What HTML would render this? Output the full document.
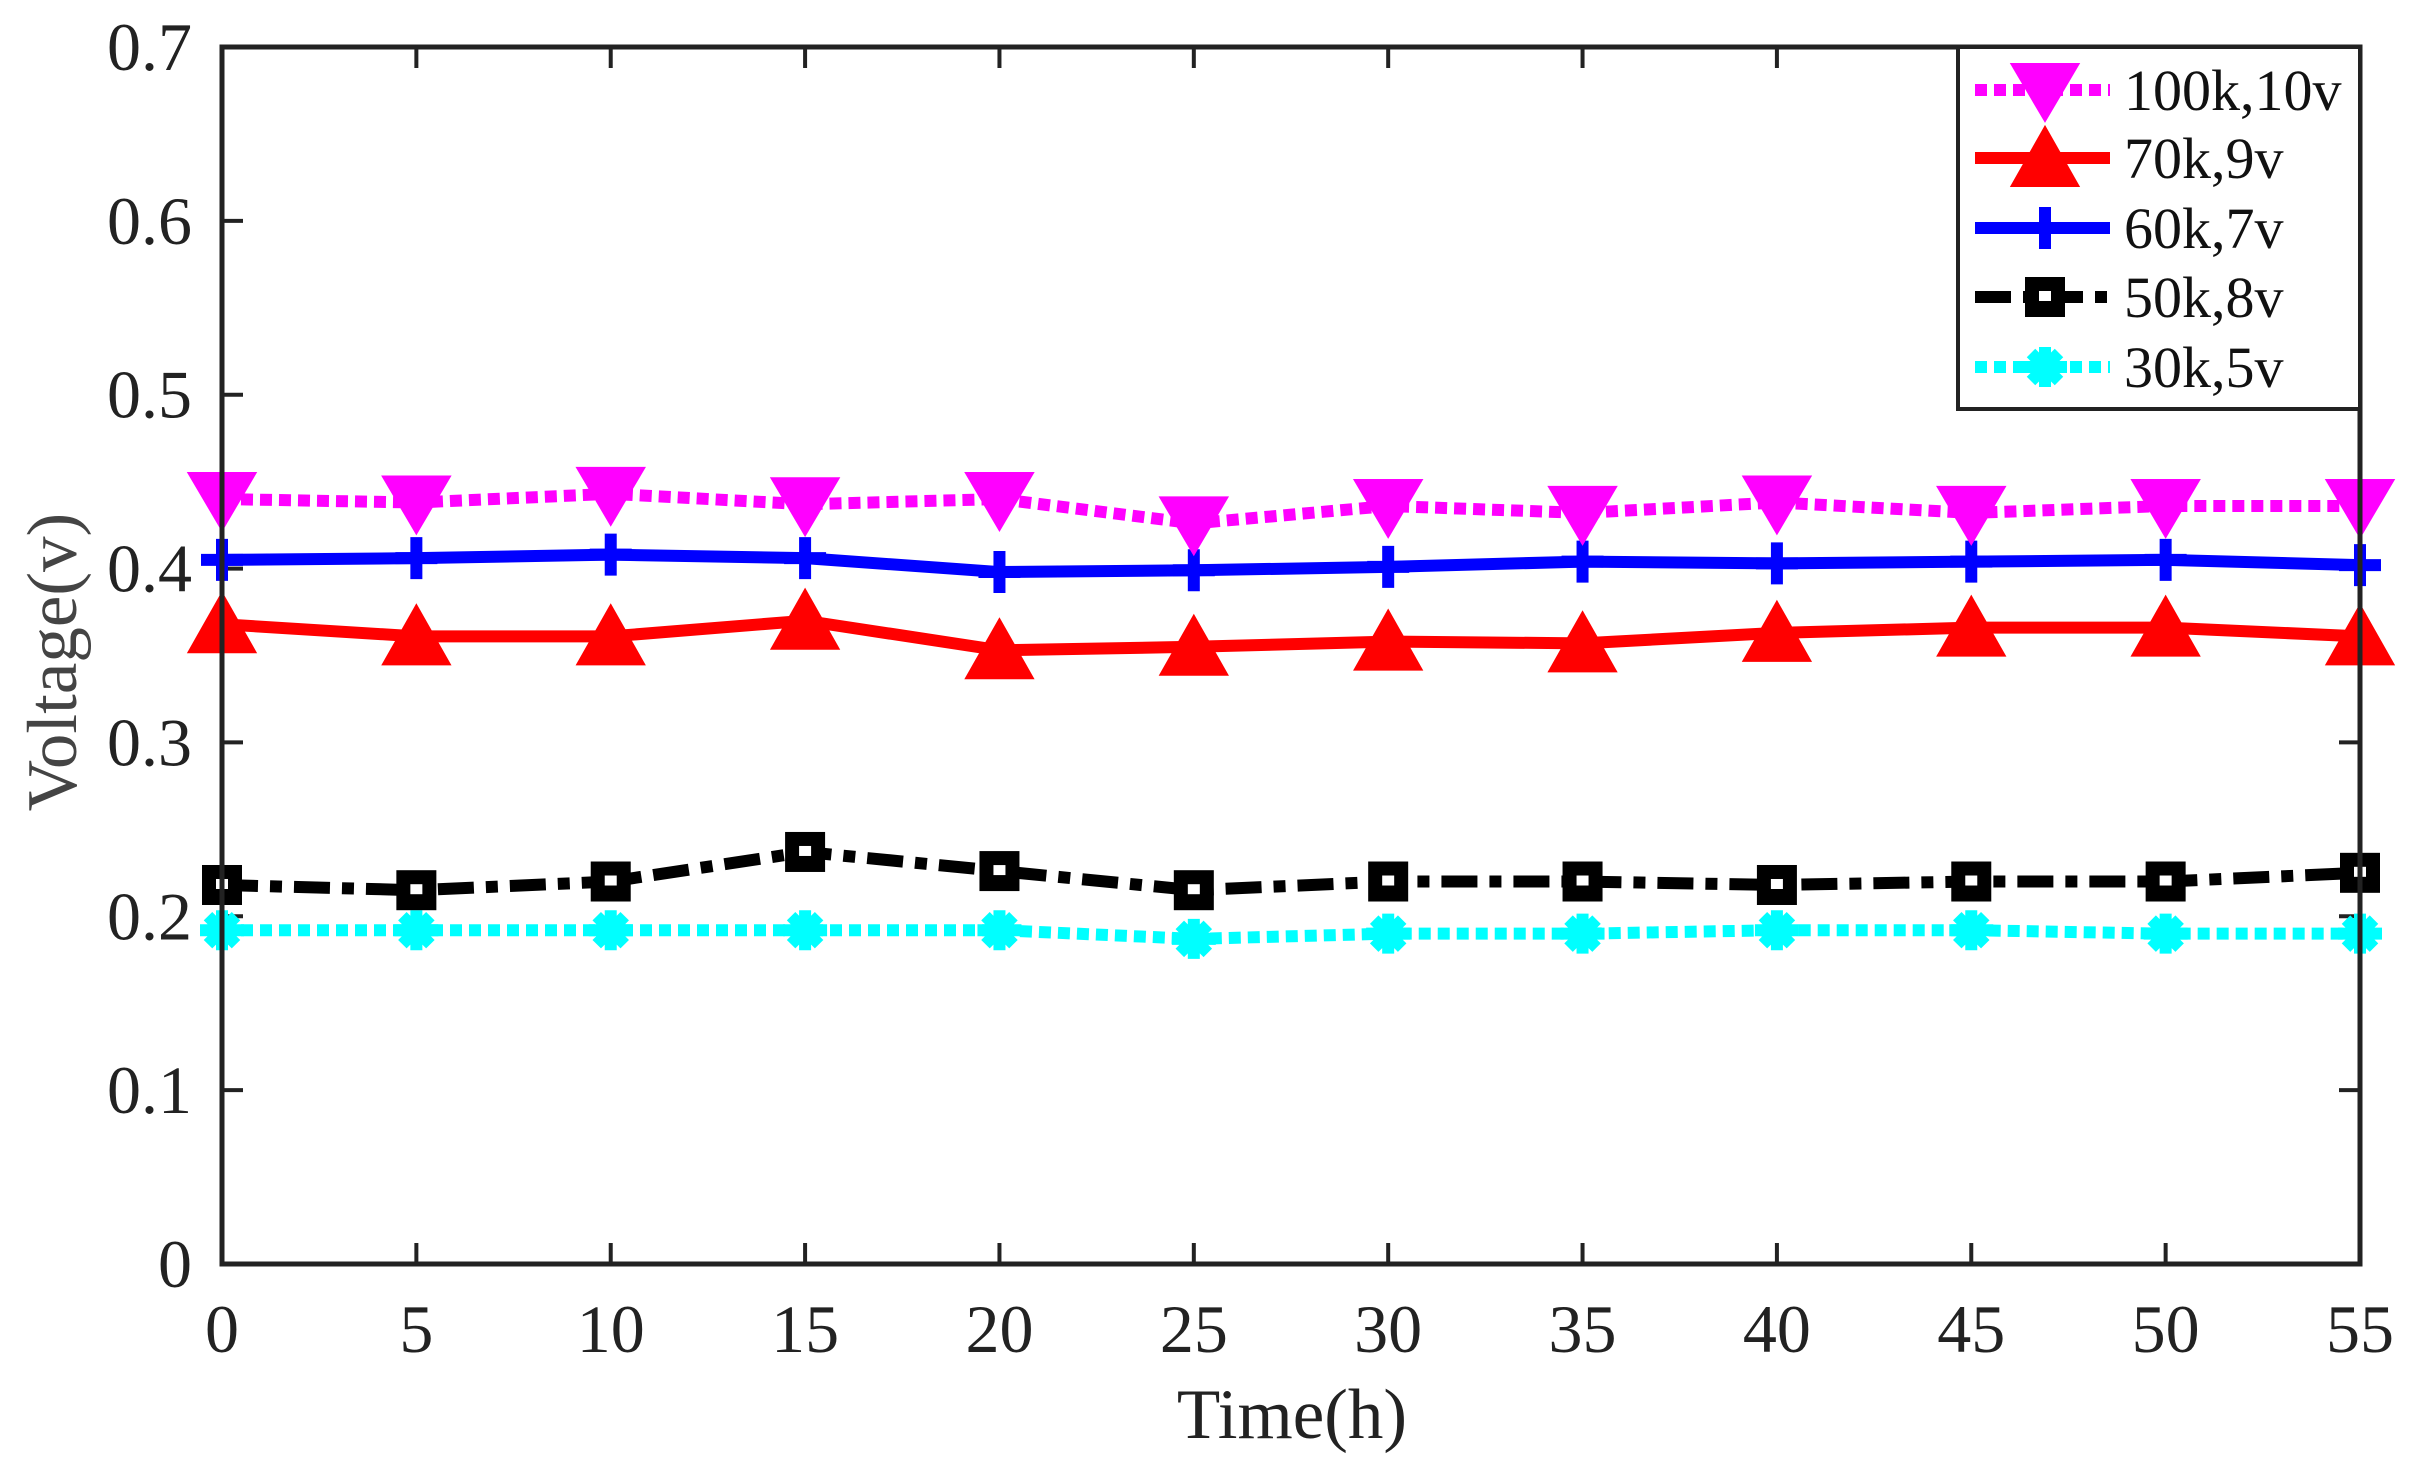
<!DOCTYPE html>
<html><head><meta charset="utf-8"><style>html,body{margin:0;padding:0;background:#fff}svg{display:block}</style></head>
<body>
<svg id="s" xmlns="http://www.w3.org/2000/svg" width="2418" height="1469" viewBox="0 0 2418 1469" font-family="Liberation Serif, serif"></svg>
<script>
const s=document.getElementById('s');
const X=t=>222+t*(2138/55), Y=v=>1264-v*(1217/0.7);
let h='<rect width="2418" height="1469" fill="#fff"/>';
const ts=[0,5,10,15,20,25,30,35,40,45,50,55];
const D={
m:[0.44,0.438,0.443,0.437,0.44,0.426,0.436,0.432,0.438,0.432,0.436,0.436],
b:[0.405,0.406,0.408,0.406,0.398,0.399,0.401,0.404,0.403,0.404,0.405,0.402],
r:[0.368,0.361,0.361,0.37,0.353,0.355,0.358,0.357,0.363,0.366,0.366,0.361],
k:[0.218,0.215,0.220,0.237,0.226,0.215,0.220,0.220,0.218,0.220,0.220,0.225],
c:[0.192,0.192,0.192,0.192,0.192,0.187,0.190,0.190,0.192,0.192,0.190,0.190]};
// ticks
for(const t of ts){const x=X(t);h+=`<line x1="${x}" y1="1264" x2="${x}" y2="1243" stroke="#222" stroke-width="4"/><line x1="${x}" y1="47" x2="${x}" y2="68" stroke="#222" stroke-width="4"/><text x="${x}" y="1352" font-size="68" text-anchor="middle" fill="#222">${t}</text>`;}
for(let i=0;i<=7;i++){const y=Y(i/10);h+=`<line x1="222" y1="${y}" x2="243" y2="${y}" stroke="#222" stroke-width="4"/><line x1="2360" y1="${y}" x2="2339" y2="${y}" stroke="#222" stroke-width="4"/><text x="192" y="${y+23}" font-size="68" text-anchor="end" fill="#222">${i==0?'0':(i/10).toFixed(1)}</text>`;}
function mk(type,x,y){
 if(type=='m')return `<polygon points="${x-30},${y-24} ${x+30},${y-24} ${x},${y+27}" fill="#f0f" stroke="#f0f" stroke-width="6"/>`;
 if(type=='r')return `<polygon points="${x-30},${y+26} ${x+30},${y+26} ${x},${y-27}" fill="#f00" stroke="#f00" stroke-width="6"/>`;
 if(type=='b')return `<path d="M${x-21},${y}H${x+21}M${x},${y-21}V${y+21}" stroke="#00f" stroke-width="12"/>`;
 if(type=='k')return `<rect x="${x-20}" y="${y-20}" width="40" height="40" fill="#000"/><rect x="${x-6}" y="${y-6}" width="12" height="10" fill="#fff"/>`;
 if(type=='c')return `<g stroke="#0ff" stroke-width="12"><path d="M${x-22},${y}H${x+22}M${x},${y-20}V${y+20}M${x-14},${y-14}L${x+14},${y+14}M${x-14},${y+14}L${x+14},${y-14}"/></g><circle cx="${x}" cy="${y}" r="14" fill="#0ff"/>`;
}
const st={m:['#f0f','12 7'],r:['#f00',''],b:['#00f',''],k:['#000','36 12 12 12'],c:['#0ff','12 7']};
for(const k of ['c','k','r','b','m']){
 const pts=ts.map((t,i)=>X(t)+','+Y(D[k][i])).join(' ');
 h+=`<polyline points="${pts}" fill="none" stroke="${st[k][0]}" stroke-width="12" ${st[k][1]?'stroke-dasharray="'+st[k][1]+'"':''}/>`;
 ts.forEach((t,i)=>h+=mk(k,X(t),Y(D[k][i])));
}
h+=`<rect x="222" y="47" width="2138" height="1217" fill="none" stroke="#222" stroke-width="5"/>`;
// legend
h+=`<rect x="1958" y="47" width="402" height="362" fill="#fff" stroke="#222" stroke-width="4"/>`;
const L=[['m','100k,10v',90],['r','70k,9v',158],['b','60k,7v',228],['k','50k,8v',297],['c','30k,5v',367]];
for(const [k,lab,y] of L){
 h+=`<line x1="1975" y1="${y}" x2="2110" y2="${y}" stroke="${st[k][0]}" stroke-width="12" ${st[k][1]?'stroke-dasharray="'+st[k][1]+'"':''}/>`+mk(k,2045,y);
 h+=`<text x="2124" y="${y+20}" font-size="58" fill="#111">${lab}</text>`;
}
h+=`<text x="1292" y="1438" font-size="71" text-anchor="middle" fill="#222">Time(h)</text>`;
h+=`<text transform="translate(76,662) rotate(-90)" font-size="71" text-anchor="middle" fill="#444">Voltage(v)</text>`;
s.innerHTML=h;
</script>
</body></html>
